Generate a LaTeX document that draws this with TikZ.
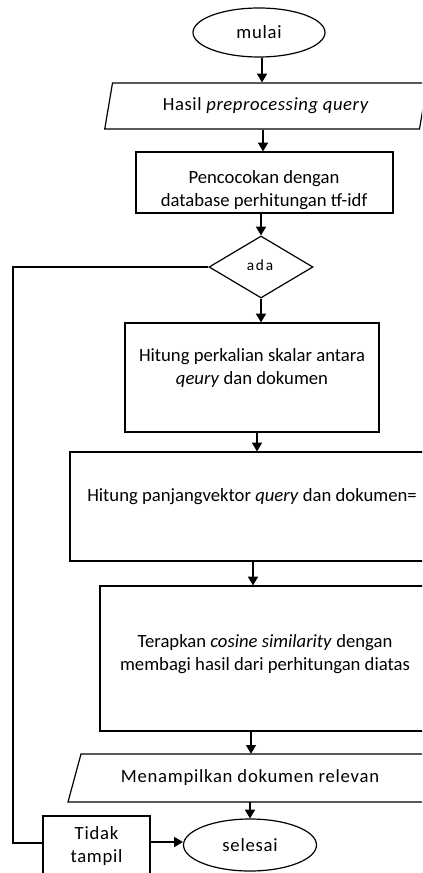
\documentclass[tikz,border=0pt]{standalone}
\usepackage{fontspec}
\setmainfont{Carlito}
\usetikzlibrary{shapes.geometric,arrows.meta,calc}
\newcommand\spaced[1]{\addfontfeature{LetterSpace=#1}}
\begin{document}
\begin{tikzpicture}[x=0.75pt,y=-0.75pt,
  every node/.style={font=\fontsize{14}{17.25}\selectfont, inner sep=0pt, align=center},
  lw/.style={line width=0.9pt},
  box/.style={draw, lw, rectangle},
  term/.style={draw, lw, ellipse},
  io/.style={draw, lw, trapezium, trapezium stretches=true, inner sep=2pt},
  dec/.style={draw, lw, diamond},
  arr/.style={lw, -{Triangle[length=6.5pt,width=7.5pt]}},
  txt/.style={draw=none}]
\useasboundingbox (0,0) rectangle (422,873);
\clip (0,0) rectangle (422,873);
% shapes
\node[term, minimum width=99pt, minimum height=36.75pt] (mulai) at (259,32.5) {\spaced{4}mulai};
\node[io, trapezium left angle=76, trapezium right angle=104, minimum width=242pt, minimum height=34.5pt] (hasil) at (266,106) {\spaced{3}Hasil \textit{preprocessing query}};
\node[box, minimum width=192.75pt, minimum height=45.75pt] (cocok) at (264.5,182.5) {};
\node[txt] (tcocok) at (264,190) {Pencocokan dengan\\database perhitungan tf-idf};
\node[dec, minimum width=78pt, minimum height=46.5pt] (ada) at (261,267) {};
\node[txt, font=\fontsize{11.5}{13}\selectfont] (tada) at (260,265) {\spaced{12}ada};
\node[box, minimum width=190.5pt, minimum height=81.75pt] (kali) at (252,377.5) {};
\node[txt] (tkali) at (252,368) {Hitung perkalian skalar antara\\\textit{qeury} dan dokumen};
\node[box, minimum width=277.5pt, minimum height=81.75pt] (panjang) at (255,506.5) {};
\node[txt] (tpanjang) at (252,497) {Hitung panjangvektor \textit{query} dan dokumen=};
\node[box, minimum width=255pt, minimum height=108.75pt] (terap) at (270,658.5) {};
\node[txt] (tterap) at (265,654) {Terapkan \textit{cosine similarity} dengan\\membagi hasil dari perhitungan diatas};
\node[minimum width=290pt, minimum height=36pt] (tampil) at (260,778) {};
\draw[lw] (68,802) -- (81,754) -- (470,754) -- (457,802) -- cycle;
\node[txt] (ttampil) at (250,778) {\spaced{4}Menampilkan dokumen relevan};
\node[term, minimum width=99.75pt, minimum height=39pt] (selesai) at (250,845) {\spaced{4}selesai};
\node[box, minimum width=80.25pt, minimum height=48pt] (tidak) at (96.5,848) {};
\node[txt] (ttidak) at (96.5,846) {\spaced{4}Tidak\\\spaced{4}tampil};
% connectors
\draw[arr] (mulai.south -| 262,0) -- (hasil.north -| 262,0);
\draw[arr] (hasil.south -| 263,0) -- (cocok.north -| 263,0);
\draw[arr] (cocok.south -| ada.north) -- (ada.north);
\draw[arr] (ada.south) -- (ada.south |- kali.north);
\draw[arr] (kali.south -| 257,0) -- (panjang.north -| 257,0);
\draw[arr] (panjang.south -| 253,0) -- (terap.north -| 253,0);
\draw[arr] (terap.south -| 251,0) -- (tampil.north -| 251,0);
\draw[arr] (tampil.south -| selesai.north) -- (selesai.north);
\draw[lw] (ada.west) -| (13,843) -- (tidak.west |- 0,843);
\draw[arr] (tidak.east |- 0,842) -- (selesai.west |- 0,842);
\end{tikzpicture}
\end{document}
